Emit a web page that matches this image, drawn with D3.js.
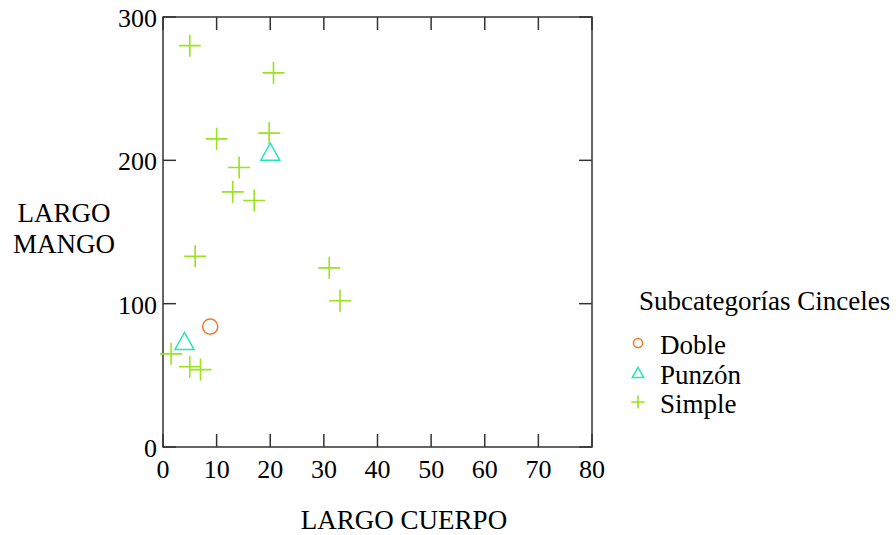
<!DOCTYPE html>
<html>
<head>
<meta charset="utf-8">
<script src="https://cdn.jsdelivr.net/npm/d3@7"></script>
<style>
  html, body { margin: 0; padding: 0; background: #fff; }
  svg text { font-family: "Liberation Serif", "Times New Roman", serif; fill: #000; }
</style>
</head>
<body>
<svg id="chart" width="896" height="535"></svg>
<script>
// Chisel measurements: body length (LARGO CUERPO) vs. handle length (LARGO MANGO)
const categories = ["Doble", "Punzón", "Simple"];
const dobleX = [8.8];
const dobleY = [84];
const punzonX = [20, 4];
const punzonY = [206, 74];
const simpleX = [5, 20.6, 10, 19.8, 14.2, 13, 17, 6, 31, 33, 1.5, 5, 7];
const simpleY = [280, 261, 215, 219, 195, 178, 172, 133, 125, 102, 65, 56, 54];
const xTicks = [0, 10, 20, 30, 40, 50, 60, 70, 80];
const yTicks = [0, 100, 200, 300];
const legendTitle = "Subcategorías Cinceles";
const xTitle = "LARGO CUERPO";
const yTitle = ["LARGO", "MANGO"];

const colors = { "Doble": "#f07a2a", "Punzón": "#22e8b4", "Simple": "#9be31c" };
const shapes = { "Doble": "circle", "Punzón": "triangle", "Simple": "plus" };

const series = [
  { name: "Doble", xs: dobleX, ys: dobleY },
  { name: "Punzón", xs: punzonX, ys: punzonY },
  { name: "Simple", xs: simpleX, ys: simpleY }
];

const svg = d3.select("#chart");
const plotLeft = 163, plotRight = 592, plotTop = 17, plotBottom = 447;
const x = d3.scaleLinear().domain([0, 80]).range([plotLeft, plotRight]);
const y = d3.scaleLinear().domain([0, 300]).range([plotBottom, plotTop]);
const tickFont = 26;
const labelFont = 27;
const tickLen = 13;

// Draws one marker of the given shape at (cx, cy) with size factor s
function marker(g, shape, cx, cy, s, color) {
  if (shape === "circle") {
    g.append("circle").attr("cx", cx).attr("cy", cy).attr("r", 7.6 * s)
      .attr("fill", "none").attr("stroke", color).attr("stroke-width", 1.5);
  } else if (shape === "triangle") {
    const w = 9.5 * s, h = 8.5 * s;
    g.append("path")
      .attr("d", `M${cx},${cy - h}L${cx + w},${cy + h}L${cx - w},${cy + h}Z`)
      .attr("fill", "none").attr("stroke", color).attr("stroke-width", 1.5);
  } else {
    const a = 11 * s;
    g.append("path")
      .attr("d", `M${cx - a},${cy}H${cx + a}M${cx},${cy - a}V${cy + a}`)
      .attr("fill", "none").attr("stroke", color).attr("stroke-width", 1.6);
  }
}

// Frame and inward ticks on all four sides
const axisColor = "#333";
const frame = svg.append("g");
frame.append("rect").attr("x", plotLeft).attr("y", plotTop)
  .attr("width", plotRight - plotLeft).attr("height", plotBottom - plotTop)
  .attr("fill", "none").attr("stroke", axisColor).attr("stroke-width", 1.5);

xTicks.forEach(t => {
  const px = x(t);
  frame.append("line").attr("x1", px).attr("x2", px).attr("y1", plotBottom).attr("y2", plotBottom - tickLen)
    .attr("stroke", axisColor).attr("stroke-width", 1.5);
  frame.append("line").attr("x1", px).attr("x2", px).attr("y1", plotTop).attr("y2", plotTop + tickLen)
    .attr("stroke", axisColor).attr("stroke-width", 1.5);
  frame.append("text").attr("x", px).attr("y", 478).attr("text-anchor", "middle")
    .attr("font-size", tickFont).text(t);
});
yTicks.forEach(t => {
  const py = y(t);
  frame.append("line").attr("x1", plotLeft).attr("x2", plotLeft + tickLen).attr("y1", py).attr("y2", py)
    .attr("stroke", axisColor).attr("stroke-width", 1.5);
  frame.append("line").attr("x1", plotRight).attr("x2", plotRight - tickLen).attr("y1", py).attr("y2", py)
    .attr("stroke", axisColor).attr("stroke-width", 1.5);
  frame.append("text").attr("x", 157).attr("y", py + 10).attr("text-anchor", "end")
    .attr("font-size", tickFont).text(t);
});

// Axis titles
svg.append("text").attr("x", 404).attr("y", 529).attr("text-anchor", "middle")
  .attr("font-size", labelFont).text(xTitle);
yTitle.forEach((line, i) => {
  svg.append("text").attr("x", 64).attr("y", 222 + i * 31).attr("text-anchor", "middle")
    .attr("font-size", labelFont).text(line);
});

// Points
const pts = svg.append("g");
series.forEach(sr => {
  sr.xs.forEach((v, i) => marker(pts, shapes[sr.name], x(v), y(sr.ys[i]), 1, colors[sr.name]));
});

// Legend
const lg = svg.append("g");
lg.append("text").attr("x", 639).attr("y", 310).attr("font-size", labelFont).text(legendTitle);
categories.forEach((c, i) => {
  const cy = 343 + i * 29.5;
  marker(lg, shapes[c], 638, cy, 0.6, colors[c]);
  lg.append("text").attr("x", 660).attr("y", cy + 11).attr("font-size", labelFont).text(c);
});
</script>
</body>
</html>
